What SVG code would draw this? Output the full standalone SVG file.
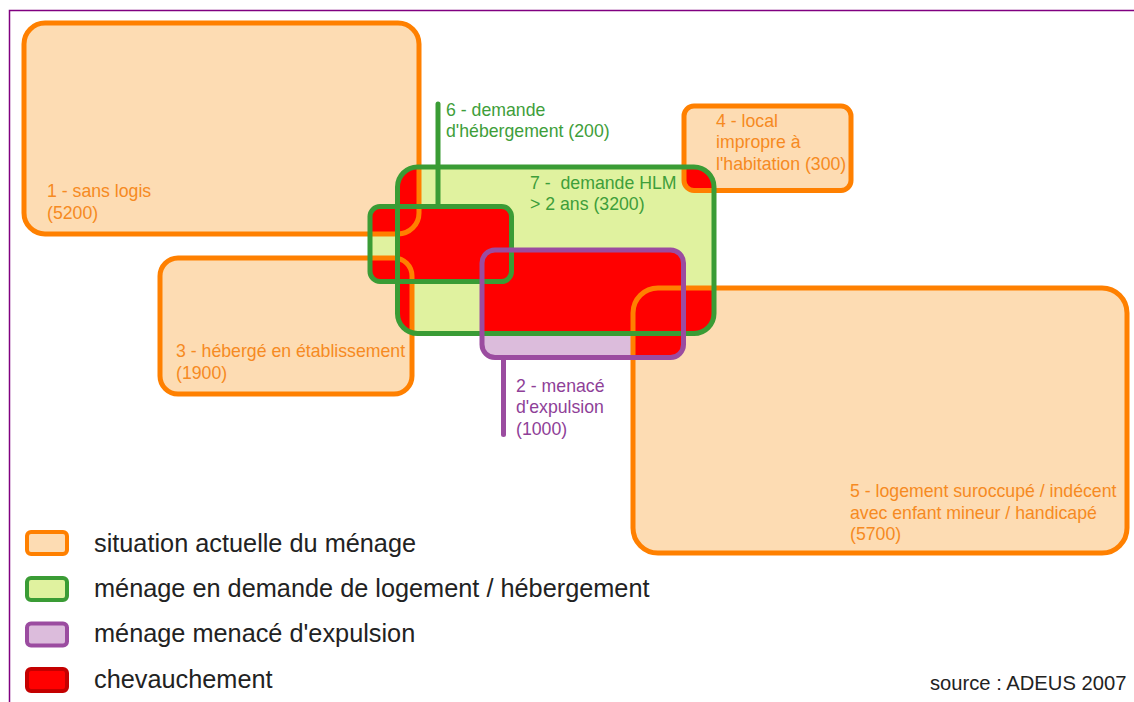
<svg xmlns="http://www.w3.org/2000/svg" xmlns:xlink="http://www.w3.org/1999/xlink" width="1134" height="702" viewBox="0 0 1134 702">
  <style>
    .lbl { font-family: "Liberation Sans", Arial, sans-serif; font-size: 17.7px; }
    .or-t { fill: #f68a22; }
    .gr-t { fill: #3e9e3a; }
    .pu-t { fill: #8f3f98; }
    .leg { font-family: "Liberation Sans", Arial, sans-serif; font-size: 25.3px; fill: #222; }
    .src { font-family: "Liberation Sans", Arial, sans-serif; font-size: 20.2px; fill: #222; }
    .or-f { fill: #fddcb3; }
    .gr-f { fill: #e0f29f; }
    .pu-f { fill: #dcbcdc; }
    .red { fill: #ff0000; }
    .or-s { fill: none; stroke: #ff8000; stroke-width: 5; }
    .gr-s { fill: none; stroke: #3a9c35; stroke-width: 5; }
    .pu-s { fill: none; stroke: #9b4ca0; stroke-width: 5; }
    .lead { stroke-width: 5; stroke-linecap: round; fill: none; }
  </style>
  <defs>
    <!-- outlines of the seven sets, shared by fills, overlaps and strokes -->
    <rect id="r1" x="24" y="23" width="395" height="211" rx="21"/>
    <rect id="r3" x="160" y="258" width="252" height="136" rx="18"/>
    <rect id="r4" x="684" y="106" width="167" height="84.5" rx="10"/>
    <rect id="r5" x="633" y="288" width="494" height="265" rx="25"/>
    <rect id="r7" x="397.5" y="167" width="316.5" height="166.5" rx="20"/>
    <rect id="r6" x="370" y="206.5" width="141.5" height="75" rx="10"/>
    <rect id="r2" x="482" y="250" width="201.5" height="107.5" rx="13"/>
    <clipPath id="c1"><use xlink:href="#r1"/></clipPath>
    <clipPath id="c3"><use xlink:href="#r3"/></clipPath>
    <clipPath id="c4"><use xlink:href="#r4"/></clipPath>
    <clipPath id="c5"><use xlink:href="#r5"/></clipPath>
    <clipPath id="c7"><use xlink:href="#r7"/></clipPath>
  </defs>

  <rect x="0" y="0" width="1134" height="702" fill="#ffffff"/>
  <!-- page frame -->
  <path d="M9.5 702 V10.5 H1134" fill="none" stroke="#800080" stroke-width="1.5"/>

  <!-- area fills and overlaps -->
  <g id="areas">
    <use xlink:href="#r1" class="or-f"/>
    <use xlink:href="#r3" class="or-f"/>
    <use xlink:href="#r4" class="or-f"/>
    <use xlink:href="#r5" class="or-f"/>
    <use xlink:href="#r7" class="gr-f"/>
    <use xlink:href="#r6" class="gr-f"/>
    <use xlink:href="#r2" class="pu-f"/>
    <g id="overlaps">
      <use xlink:href="#r7" class="red" clip-path="url(#c1)"/>
      <use xlink:href="#r7" class="red" clip-path="url(#c3)"/>
      <use xlink:href="#r7" class="red" clip-path="url(#c4)"/>
      <use xlink:href="#r7" class="red" clip-path="url(#c5)"/>
      <use xlink:href="#r6" class="red" clip-path="url(#c7)"/>
      <use xlink:href="#r6" class="red" clip-path="url(#c1)"/>
      <use xlink:href="#r6" class="red" clip-path="url(#c3)"/>
      <use xlink:href="#r2" class="red" clip-path="url(#c7)"/>
      <use xlink:href="#r2" class="red" clip-path="url(#c5)"/>
    </g>
  </g>

  <!-- current situation of the household -->
  <g id="node-1">
    <use xlink:href="#r1" class="or-s"/>
    <text class="lbl or-t" x="47" y="197">1 - sans logis</text>
    <text class="lbl or-t" x="47" y="219">(5200)</text>
  </g>
  <g id="node-3">
    <use xlink:href="#r3" class="or-s"/>
    <text class="lbl or-t" x="176" y="357">3 - hébergé en établissement</text>
    <text class="lbl or-t" x="176" y="379">(1900)</text>
  </g>
  <g id="node-4">
    <use xlink:href="#r4" class="or-s"/>
    <text class="lbl or-t" x="716" y="126.5">4 - local</text>
    <text class="lbl or-t" x="716" y="148">impropre à</text>
    <text class="lbl or-t" x="716" y="169.5">l'habitation (300)</text>
  </g>
  <g id="node-5">
    <use xlink:href="#r5" class="or-s"/>
    <text class="lbl or-t" x="850" y="497">5 - logement suroccupé / indécent</text>
    <text class="lbl or-t" x="850" y="518.5">avec enfant mineur / handicapé</text>
    <text class="lbl or-t" x="850" y="540">(5700)</text>
  </g>

  <!-- leader lines from the labels to their sets -->
  <g id="connectors">
    <line class="lead" stroke="#3a9c35" x1="438" y1="104" x2="438" y2="206"/>
    <line class="lead" stroke="#9b4ca0" x1="503.5" y1="358" x2="503.5" y2="434.5"/>
  </g>

  <!-- households asking for housing -->
  <g id="node-7">
    <use xlink:href="#r7" class="gr-s"/>
    <text class="lbl gr-t" x="530" y="189" xml:space="preserve">7 -  demande HLM</text>
    <text class="lbl gr-t" x="530" y="210">&gt; 2 ans (3200)</text>
  </g>
  <g id="node-6">
    <use xlink:href="#r6" class="gr-s"/>
    <text class="lbl gr-t" x="446" y="116">6 - demande</text>
    <text class="lbl gr-t" x="446" y="137">d'hébergement (200)</text>
  </g>

  <!-- households facing eviction -->
  <g id="node-2">
    <use xlink:href="#r2" class="pu-s"/>
    <text class="lbl pu-t" x="516" y="391.5">2 - menacé</text>
    <text class="lbl pu-t" x="516" y="413">d'expulsion</text>
    <text class="lbl pu-t" x="516" y="434.5">(1000)</text>
  </g>

  <!-- key -->
  <g id="legend">
    <rect x="27" y="532" width="40" height="22" rx="4" fill="#fddcb3" stroke="#ff8000" stroke-width="4"/>
    <rect x="27" y="578" width="40" height="22" rx="4" fill="#e0f29f" stroke="#3a9c35" stroke-width="4"/>
    <rect x="27" y="623.5" width="40" height="22" rx="4" fill="#dcbcdc" stroke="#9b4ca0" stroke-width="4"/>
    <rect x="27" y="669" width="40" height="22" rx="4" fill="#ff0000" stroke="#c40000" stroke-width="4"/>
    <text class="leg" x="94" y="552">situation actuelle du ménage</text>
    <text class="leg" x="94" y="597">ménage en demande de logement / hébergement</text>
    <text class="leg" x="94" y="642">ménage menacé d'expulsion</text>
    <text class="leg" x="94" y="688">chevauchement</text>
  </g>
  <text class="src" x="930" y="690">source : ADEUS 2007</text>
</svg>
